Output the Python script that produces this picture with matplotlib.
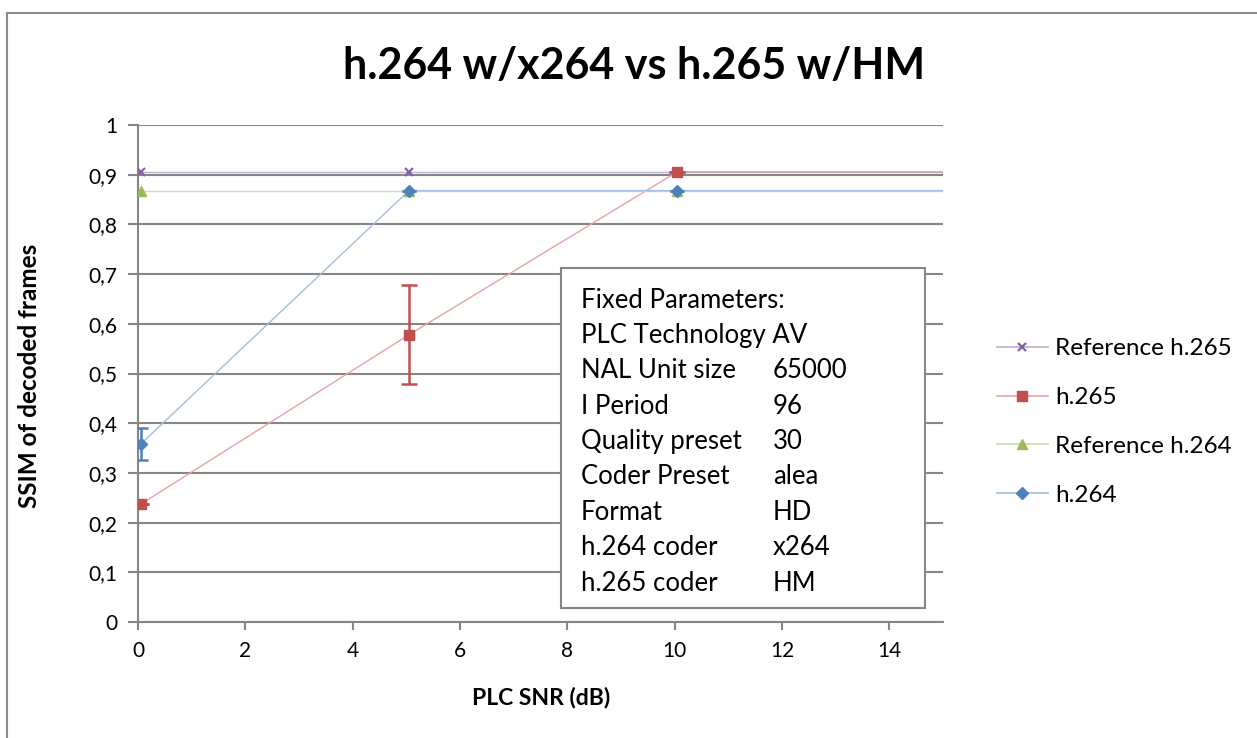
import matplotlib
matplotlib.use('Agg')
import matplotlib.pyplot as plt
from matplotlib.lines import Line2D
from matplotlib.patches import Rectangle

# PLC SNR values (dB) and SSIM results
snr = [0.05, 5.05, 10.05, 15.05]
ref_h265 = [0.906, 0.906, 0.906, 0.906]
h265 = [0.237, 0.578, 0.906, 0.906]
h265_err = [0.0, 0.1, 0.0, 0.0]
ref_h264 = [0.868, 0.868, 0.868, 0.868]
h264 = [0.358, 0.868, 0.868, 0.868]
h264_err = [0.032, 0.0, 0.0, 0.0]

param_names = ['PLC Technology AV', 'NAL Unit size', 'I Period', 'Quality preset',
               'Coder Preset', 'Format', 'h.264 coder', 'h.265 coder']
param_values = ['', '65000', '96', '30', 'alea', 'HD', 'x264', 'HM']

x_ticks = [0, 2, 4, 6, 8, 10, 12, 14]
y_ticks = [0, 0.1, 0.2, 0.3, 0.4, 0.5, 0.6, 0.7, 0.8, 0.9, 1.0]
y_ticklabels = ['0', '0,1', '0,2', '0,3', '0,4', '0,5', '0,6', '0,7', '0,8', '0,9', '1']

plt.rcParams['font.family'] = ['Lato', 'DejaVu Sans']

W, H = 1257, 738
fig = plt.figure(figsize=(W / 100, H / 100), dpi=100)
ax = fig.add_axes([138 / W, 1 - 622 / H, (943 - 138) / W, (622 - 125) / H])

grey = '#868686'
purple, purple_l = '#8064A2', '#BCAED0'
red, red_l = '#C0504D', '#E6A5A3'
green, green_l = '#9BBB59', '#CCDDAA'
blue, blue_l = '#4F81BD', '#A3BEE0'

ax.grid(axis='y', color=grey, linewidth=1.5, zorder=0)
ax.set_axisbelow(True)

# only the measured points get markers, the last point just carries the line on
n = 3

ax.plot(snr, ref_h265, color=purple_l, linewidth=1.0, zorder=3)
ax.plot(snr[:n], ref_h265[:n], linestyle='none', marker='x', color=purple,
        markersize=6, markeredgewidth=1.6, zorder=4)

ax.plot(snr, h265, color=red_l, linewidth=1.0, zorder=3)
ax.errorbar(snr[:n], h265[:n], yerr=h265_err[:n], fmt='s', color=red,
            markersize=7, elinewidth=1.8, capsize=6, capthick=1.8, zorder=5)

ax.plot(snr, ref_h264, color=green_l, linewidth=1.0, zorder=3)
ax.plot(snr[:n], ref_h264[:n], linestyle='none', marker='^', color=green,
        markersize=7, zorder=4)

ax.plot(snr, h264, color=blue_l, linewidth=1.0, zorder=3)
ax.errorbar(snr[:n], h264[:n], yerr=h264_err[:n], fmt='D', color=blue,
            markersize=6, elinewidth=1.8, capsize=5, capthick=1.8, zorder=6)

ax.set_xlim(0, 15)
ax.set_ylim(0, 1)
ax.set_xticks(x_ticks)
ax.set_yticks(y_ticks)
ax.set_yticklabels(y_ticklabels)
ax.tick_params(axis='both', colors=grey, labelcolor='black', labelsize=15,
               width=1.5, direction='out')
ax.tick_params(axis='y', length=7, pad=8)
ax.tick_params(axis='x', length=6, pad=8)
for side in ['top', 'right']:
    ax.spines[side].set_visible(False)
for side in ['left', 'bottom']:
    ax.spines[side].set_color(grey)
    ax.spines[side].set_linewidth(1.5)

fig.text(634 / W, 1 - 66 / H, 'h.264 w/x264 vs h.265 w/HM', ha='center',
         va='center', fontsize=31, fontweight='bold')
fig.text(30 / W, 1 - 376 / H, 'SSIM of decoded frames', rotation=90,
         ha='center', va='center', fontsize=17.5, fontweight='bold')
fig.text(541 / W, 1 - 697 / H, 'PLC SNR (dB)', ha='center', va='center',
         fontsize=16.5, fontweight='bold')

# parameter box
fig.patches.append(Rectangle((561 / W, 1 - 608 / H), (925 - 561) / W,
                             (608 - 268) / H, transform=fig.transFigure,
                             facecolor='white', edgecolor=grey,
                             linewidth=1.5, zorder=10))
row_y = 300
fig.text(581 / W, 1 - row_y / H, 'Fixed Parameters:', va='center',
         fontsize=18.5, zorder=11)
for i, (name, val) in enumerate(zip(param_names, param_values)):
    y = 1 - (row_y + 35.4 * (i + 1)) / H
    fig.text(581 / W, y, name, va='center', fontsize=18.5, zorder=11)
    if val:
        fig.text(773 / W, y, val, va='center', fontsize=18.5, zorder=11)

handles = [
    Line2D([], [], color=purple_l, linewidth=1.2, marker='x', markersize=6,
           markeredgewidth=1.6, markeredgecolor=purple),
    Line2D([], [], color=red_l, linewidth=1.2, marker='s', markersize=7,
           markeredgecolor=red, markerfacecolor=red),
    Line2D([], [], color=green_l, linewidth=1.2, marker='^', markersize=7,
           markeredgecolor=green, markerfacecolor=green),
    Line2D([], [], color=blue_l, linewidth=1.2, marker='D', markersize=6,
           markeredgecolor=blue, markerfacecolor=blue),
]
labels = ['Reference h.265', 'h.265', 'Reference h.264', 'h.264']
fig.legend(handles, labels, loc='center left',
           bbox_to_anchor=(975 / W, 1 - 422 / H), frameon=False,
           fontsize=17.5, handlelength=2.1, handletextpad=0.3,
           labelspacing=1.15)

# chart area border
fig.add_artist(Line2D([6.5 / W, 1.0], [1 - 12.5 / H, 1 - 12.5 / H],
                      transform=fig.transFigure, color='#8c8c8c', linewidth=1.5))
fig.add_artist(Line2D([6.5 / W, 6.5 / W], [0.0, 1 - 12.5 / H],
                      transform=fig.transFigure, color='#8c8c8c', linewidth=1.5))

fig.savefig('out.png', dpi=100)
